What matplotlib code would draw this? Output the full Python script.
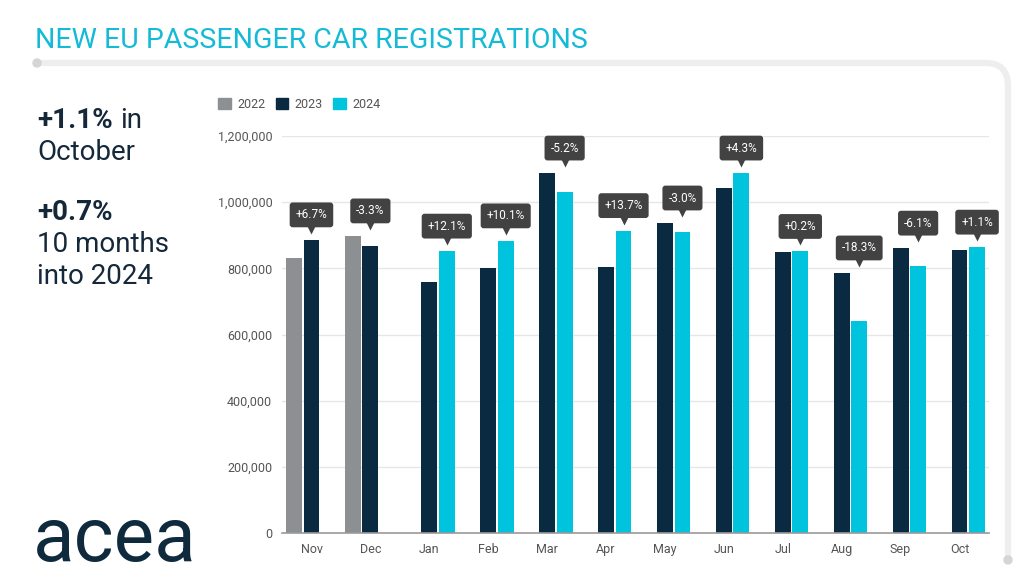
import numpy as np
import matplotlib
matplotlib.use("Agg")
import matplotlib.pyplot as plt
from matplotlib.patches import Patch, PathPatch
from matplotlib.path import Path
from matplotlib.transforms import offset_copy
from matplotlib.ticker import FuncFormatter

# ---------------- data ----------------
months = ["Nov", "Dec", "Jan", "Feb", "Mar", "Apr", "May", "Jun", "Jul", "Aug", "Sep", "Oct"]
series_names = ["2022", "2023", "2024"]
nan = np.nan
y2022 = [831000, 898000, nan, nan, nan, nan, nan, nan, nan, nan, nan, nan]
y2023 = [886000, 868000, 759000, 801000, 1088000, 804000, 937000, 1043000, 849000, 786000, 861000, 855000]
y2024 = [nan, nan, 852000, 883000, 1032000, 914000, 909000, 1088000, 851000, 642000, 808000, 864000]
changes = ["+6.7%", "-3.3%", "+12.1%", "+10.1%", "-5.2%", "+13.7%", "-3.0%", "+4.3%",
           "+0.2%", "-18.3%", "-6.1%", "+1.1%"]
yticks = [0, 200000, 400000, 600000, 800000, 1000000, 1200000]

title = "NEW EU PASSENGER CAR REGISTRATIONS"
colors = ["#8d9092", "#0a2a42", "#00c3dd"]
navy = "#15283a"
tip_col = "#424242"

W, H = 1024, 576
fig = plt.figure(figsize=(W / 100, H / 100), dpi=100)
fig.patch.set_facecolor("white")


def fx(x):
    return x / W


def fy(y):
    return 1 - y / H


# ---------------- card outline ----------------
card_col = "#eeeeee"
verts = [(fx(37), fy(63)), (fx(986), fy(63)), (fx(1008), fy(63)), (fx(1008), fy(86)), (fx(1008), fy(560))]
codes = [Path.MOVETO, Path.LINETO, Path.CURVE3, Path.CURVE3, Path.LINETO]
fig.add_artist(PathPatch(Path(verts, codes), transform=fig.transFigure, fill=False,
                         ec=card_col, lw=4.5, capstyle="round", zorder=0))
for (cx, cy) in [(37, 63), (1008, 560)]:
    fig.add_artist(matplotlib.patches.Ellipse((fx(cx), fy(cy)), 8 / W, 8 / H,
                                              transform=fig.transFigure, color="#d5d5d5", zorder=1))

# ---------------- title ----------------
fig.text(fx(35), fy(48), title, family="Roboto",
         fontsize=20.5, color="#14bad6", va="baseline", ha="left")

# ---------------- left text ----------------
fig.text(fx(37), fy(128), "+1.1%", family="Roboto", weight="bold", fontsize=20,
         color=navy, va="baseline")
fig.text(fx(120), fy(128), "in", family="Roboto", fontsize=20, color=navy, va="baseline")
fig.text(fx(37), fy(160), "October", family="Roboto", fontsize=20, color=navy, va="baseline")
fig.text(fx(37), fy(220), "+0.7%", family="Roboto", weight="bold", fontsize=20, color=navy, va="baseline")
fig.text(fx(37), fy(252), "10 months", family="Roboto", fontsize=20, color=navy, va="baseline")
fig.text(fx(37), fy(284), "into 2024", family="Roboto", fontsize=20, color=navy, va="baseline")

# logo
fig.text(fx(33), fy(561), "acea", family="Roboto", fontsize=55, color="#0f2a3d", va="baseline")

# ---------------- chart ----------------
ax = fig.add_axes([fx(282), 43 / H, 707 / W, 397 / H])
x = np.arange(len(months))
slot = 0.297
bw = 0.27
data = [np.array(y2022, float), np.array(y2023, float), np.array(y2024, float)]
for i, (vals, c) in enumerate(zip(data, colors)):
    ax.bar(x + (i - 1) * slot, vals, width=bw, color=c, zorder=3, label=series_names[i])

ax.set_xlim(-0.5, len(months) - 0.5)
ax.set_ylim(0, 1200000)
ax.set_yticks(yticks)
ax.yaxis.set_major_formatter(FuncFormatter(lambda v, p: f"{int(v):,}"))
ax.set_xticks(x)
ax.set_xticklabels(months)
for lab in ax.get_xticklabels() + ax.get_yticklabels():
    lab.set_family("Roboto")
    lab.set_fontsize(9)
    lab.set_color("#555555")
ax.tick_params(axis="both", length=0)
ax.tick_params(axis="y", pad=7)
ax.tick_params(axis="x", pad=7)
ax.grid(axis="y", color="#e6e6e6", lw=1, zorder=0)
for s in ["top", "right", "left"]:
    ax.spines[s].set_visible(False)
ax.spines["bottom"].set_color("#9a9a9a")
ax.spines["bottom"].set_linewidth(1.2)
ax.spines["bottom"].set_zorder(4)

# tooltips
tri_tr = offset_copy(ax.transData, fig=fig, x=0, y=8.0, units="points")
for i in range(len(months)):
    a23, a24 = data[1][i], data[2][i]
    xi = x[i] + (slot if not np.isnan(a24) else 0.0)
    top = np.nanmax([data[0][i], a23, a24])
    ax.annotate(changes[i], xy=(xi, top), xytext=(0, 18), textcoords="offset points",
                ha="center", va="center", fontsize=8.5, family="Roboto", color="white",
                bbox=dict(boxstyle="round,pad=0.5,rounding_size=0.25", fc=tip_col, ec="none"),
                annotation_clip=False, zorder=6)
    ax.plot([xi], [top], marker="v", ms=7.5, color=tip_col, transform=tri_tr,
            clip_on=False, zorder=5, mec="none")

# legend
handles = [Patch(color=c, label=n) for c, n in zip(colors, series_names)]
fig.legend(handles=handles, loc="center left", bbox_to_anchor=(fx(218), fy(104)),
           ncol=3, frameon=False, handlelength=1.0, handleheight=1.0,
           handletextpad=0.55, columnspacing=0.8, borderpad=0, borderaxespad=0,
           labelcolor="#555555", prop={"family": "Roboto", "size": 9})

fig.savefig("out.png", dpi=100, facecolor="white")
